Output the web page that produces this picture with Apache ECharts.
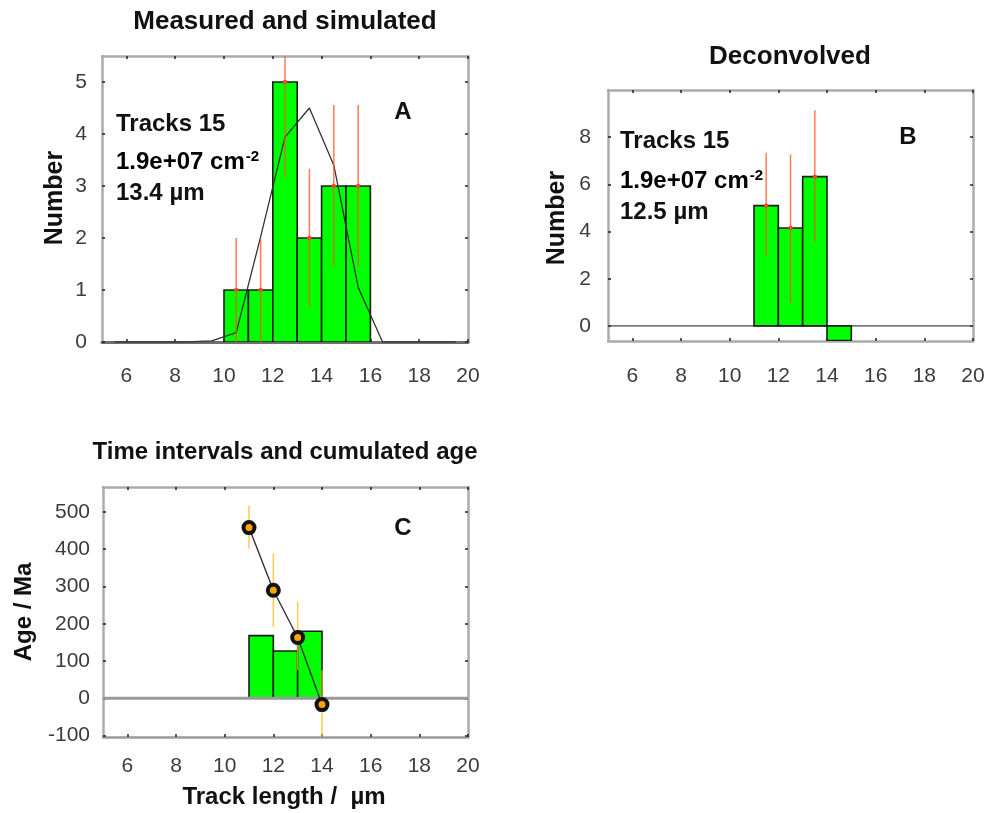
<!DOCTYPE html>
<html><head><meta charset="utf-8">
<script src="https://cdn.jsdelivr.net/npm/echarts@6/dist/echarts.min.js"></script>
<style>html,body{margin:0;padding:0;background:#fff}#c{width:989px;height:813px}</style>
</head><body><div id="c"></div>
<script>
// ---------- shared ----------
const xMin = 5, xMax = 20;
const xTicks = [6, 8, 10, 12, 14, 16, 18, 20];
const binWidth = 1;

// ---------- Panel A: measured and simulated ----------
const aBinStart = [10, 11, 12, 13, 14, 15];
const aCounts = [1, 1, 5, 2, 3, 3];
const aErrLow = [0, 0, 3.17, 0.68, 1.45, 1.45];
const aErrHigh = [2, 2, 6.9, 3.33, 4.56, 4.56];
const aSimX = [5.5, 6.5, 7.5, 8.5, 9.5, 10.5, 11.5, 12.5, 13.5, 14.5, 15.5, 16.5, 17.5, 18.5, 19.5];
const aSimY = [0, 0, 0, 0, 0.02, 0.18, 2.02, 3.94, 4.5, 3.4, 1.05, 0, 0, 0, 0];
const aYTicks = [0, 1, 2, 3, 4, 5];
const aYMin = 0, aYMax = 5.5;

// ---------- Panel B: deconvolved ----------
const bBinStart = [11, 12, 13, 14];
const bCounts = [5.1, 4.15, 6.33, -0.62];
const bErrX = [11.5, 12.5, 13.5];
const bErrVal = [5.1, 4.15, 6.33];
const bErrLow = [2.95, 0.96, 3.58];
const bErrHigh = [7.34, 7.27, 9.14];
const bYTicks = [0, 2, 4, 6, 8];
const bYMin = -0.64, bYMax = 10;

// ---------- Panel C: time intervals and cumulated age ----------
const cBinStart = [11, 12, 13];
const cAges = [168, 127, 180];
const cCumX = [11, 12, 13, 14];
const cCumAge = [458, 290, 163, -17];
const cErrLow = [401, 191, 75, -110];
const cErrHigh = [517, 389, 259, 76];
const cYTicks = [-100, 0, 100, 200, 300, 400, 500];
const cYMin = -104, cYMax = 567;

const FONT = '"Liberation Sans", Arial, Helvetica, sans-serif';
const frameColor = '#ababab';

function barRender(params, api) {
  const x0 = api.value(0), x1 = api.value(1), y = api.value(2);
  const p0 = api.coord([x0, y]), p1 = api.coord([x1, 0]);
  return {
    type: 'rect',
    shape: { x: p0[0], y: Math.min(p0[1], p1[1]), width: p1[0] - p0[0], height: Math.abs(p1[1] - p0[1]) },
    style: { fill: '#00ff00', stroke: '#1c1c1c', lineWidth: 1.6 }
  };
}
function errRender(color, dotColor) {
  return function (params, api) {
    const x = api.value(0), lo = api.value(1), hi = api.value(2);
    const a = api.coord([x, lo]), b = api.coord([x, hi]);
    const children = [{ type: 'line', shape: { x1: a[0], y1: a[1], x2: b[0], y2: b[1] }, style: { stroke: color, lineWidth: 1.5 } }];
    if (dotColor) {
      const c = api.coord([x, api.value(3)]);
      children.push({ type: 'circle', shape: { cx: c[0], cy: c[1], r: 2.2 }, style: { fill: dotColor } });
    }
    return { type: 'group', children };
  };
}

function xAxes(grid, margin, bottomColor, bottomWidth) {
  const tick = { show: true, inside: true, length: 3, customValues: xTicks, lineStyle: { color: '#222', width: 1.5 } };
  return [
    { type: 'value', gridIndex: grid, min: xMin, max: xMax, position: 'bottom',
      axisLine: { show: true, onZero: false, lineStyle: { color: bottomColor, width: bottomWidth } },
      axisTick: tick,
      axisLabel: { show: true, customValues: xTicks, margin: margin, fontFamily: FONT, fontSize: 21, color: '#3c3c3c' },
      splitLine: { show: false } },
    { type: 'value', gridIndex: grid, min: xMin, max: xMax, position: 'top',
      axisLine: { show: true, onZero: false, lineStyle: { color: frameColor, width: 2.5 } },
      axisTick: tick, axisLabel: { show: false }, splitLine: { show: false } }
  ];
}
function yAxes(grid, min, max, ticks, margin) {
  const tick = { show: true, inside: true, length: 3, customValues: ticks, lineStyle: { color: '#222', width: 1.5 } };
  return [
    { type: 'value', gridIndex: grid, min: min, max: max, position: 'left',
      axisLine: { show: true, onZero: false, lineStyle: { color: frameColor, width: 2.5 } },
      axisTick: tick,
      axisLabel: { show: true, customValues: ticks, margin: margin, fontFamily: FONT, fontSize: 21, color: '#3c3c3c' },
      splitLine: { show: false } },
    { type: 'value', gridIndex: grid, min: min, max: max, position: 'right',
      axisLine: { show: true, onZero: false, lineStyle: { color: frameColor, width: 2.5 } },
      axisTick: tick, axisLabel: { show: false }, splitLine: { show: false } }
  ];
}

const binData = (starts, vals) => starts.map((s, i) => [s, s + binWidth, vals[i]]);

const series = [
  // ---- A ----
  { type: 'custom', xAxisIndex: 0, yAxisIndex: 0, clip: true, z: 2, renderItem: barRender, data: binData(aBinStart, aCounts) },
  { type: 'line', xAxisIndex: 0, yAxisIndex: 0, z: 3, symbol: 'none', lineStyle: { color: '#333', width: 1.3 },
    data: aSimX.map((x, i) => [x, aSimY[i]]) },
  { type: 'custom', xAxisIndex: 0, yAxisIndex: 0, clip: true, z: 4, renderItem: errRender('rgba(255,80,30,0.75)', '#f04a20'),
    data: aBinStart.map((s, i) => [s + binWidth / 2, aErrLow[i], aErrHigh[i], aCounts[i]]) },
  // ---- B ----
  { type: 'line', xAxisIndex: 2, yAxisIndex: 2, z: 1, symbol: 'none', lineStyle: { color: '#444', width: 1.4 },
    data: [[xMin, 0], [xMax, 0]] },
  { type: 'custom', xAxisIndex: 2, yAxisIndex: 2, clip: true, z: 2, renderItem: barRender, data: binData(bBinStart, bCounts) },
  { type: 'custom', xAxisIndex: 2, yAxisIndex: 2, clip: true, z: 4, renderItem: errRender('rgba(255,80,30,0.75)', '#f04a20'),
    data: bErrX.map((x, i) => [x, bErrLow[i], bErrHigh[i], bErrVal[i]]) },
  // ---- C ----
  { type: 'custom', xAxisIndex: 4, yAxisIndex: 4, clip: true, z: 2, renderItem: barRender, data: binData(cBinStart, cAges) },
  { type: 'line', xAxisIndex: 4, yAxisIndex: 4, z: 3, symbol: 'none', lineStyle: { color: '#9a9a9a', width: 3 },
    data: [[xMin, 0], [xMax, 0]] },
  { type: 'custom', xAxisIndex: 4, yAxisIndex: 4, clip: true, z: 4, renderItem: errRender('rgba(255,185,20,0.75)', null),
    data: cCumX.map((x, i) => [x, cErrLow[i], cErrHigh[i]]) },
  { type: 'line', xAxisIndex: 4, yAxisIndex: 4, z: 5, symbol: 'circle', symbolSize: 11,
    lineStyle: { color: '#333', width: 1.4 },
    itemStyle: { color: '#ffa500', borderColor: '#111', borderWidth: 4 },
    data: cCumX.map((x, i) => [x, cCumAge[i]]) }
];

function txt(x, y, text, size, extra) {
  return Object.assign({
    type: 'text', x: x, y: y, z: 100,
    style: { text: text, font: 'bold ' + size + 'px ' + FONT, fill: '#111',
      align: 'left', verticalAlign: 'middle', textAlign: 'left', textVerticalAlign: 'middle' }
  }, extra || {});
}
function ctxt(x, y, text, size, rot) {
  const t = txt(x, y, text, size);
  t.style.align = 'center'; t.style.textAlign = 'center';
  if (rot) t.rotation = Math.PI / 2;
  return t;
}
const rich = {
  n: { fontFamily: FONT, fontWeight: 'bold', fontSize: 24, color: '#111', lineHeight: 28, verticalAlign: 'bottom' },
  s: { fontFamily: FONT, fontWeight: 'bold', fontSize: 15, color: '#111', lineHeight: 28, verticalAlign: 'top', padding: [3, 0, 0, 1] }
};
function densityText(x, y) {
  return { type: 'text', x: x, y: y, z: 100,
    style: { text: '{n|1.9e+07 cm}{s|-2}', rich: rich, align: 'left', verticalAlign: 'middle', textAlign: 'left', textVerticalAlign: 'middle' } };
}

const graphic = [
  ctxt(285, 22, 'Measured and simulated', 26),
  ctxt(790, 57, 'Deconvolved', 26),
  ctxt(285, 452, 'Time intervals and cumulated age', 24),
  ctxt(55, 198, 'Number', 25, true),
  ctxt(557, 218, 'Number', 25, true),
  ctxt(24, 612, 'Age / Ma', 24, true),
  ctxt(284, 797, 'Track length /  µm', 24),
  txt(116, 124, 'Tracks 15', 24),
  densityText(116, 160),
  txt(116, 193, '13.4 µm', 24),
  ctxt(403, 112, 'A', 24),
  txt(620, 141, 'Tracks 15', 24),
  densityText(620, 179),
  txt(620, 212, '12.5 µm', 24),
  ctxt(908, 137, 'B', 24),
  ctxt(403, 528, 'C', 24)
];

const option = {
  animation: false,
  backgroundColor: '#fff',
  grid: [
    { left: 102, top: 56, width: 366, height: 286 },
    { left: 608, top: 90, width: 365, height: 251 },
    { left: 103, top: 487, width: 365, height: 250 }
  ],
  xAxis: [].concat(xAxes(0, 24, '#707070', 3), xAxes(1, 25, frameColor, 2.5), xAxes(2, 19, '#9a9a9a', 2.5)),
  yAxis: [].concat(yAxes(0, aYMin, aYMax, aYTicks, 15), yAxes(1, bYMin, bYMax, bYTicks, 17), yAxes(2, cYMin, cYMax, cYTicks, 13)),
  series: series,
  graphic: graphic
};
echarts.init(document.getElementById('c'), null, { renderer: 'canvas' }).setOption(option);
</script>
</body></html>
